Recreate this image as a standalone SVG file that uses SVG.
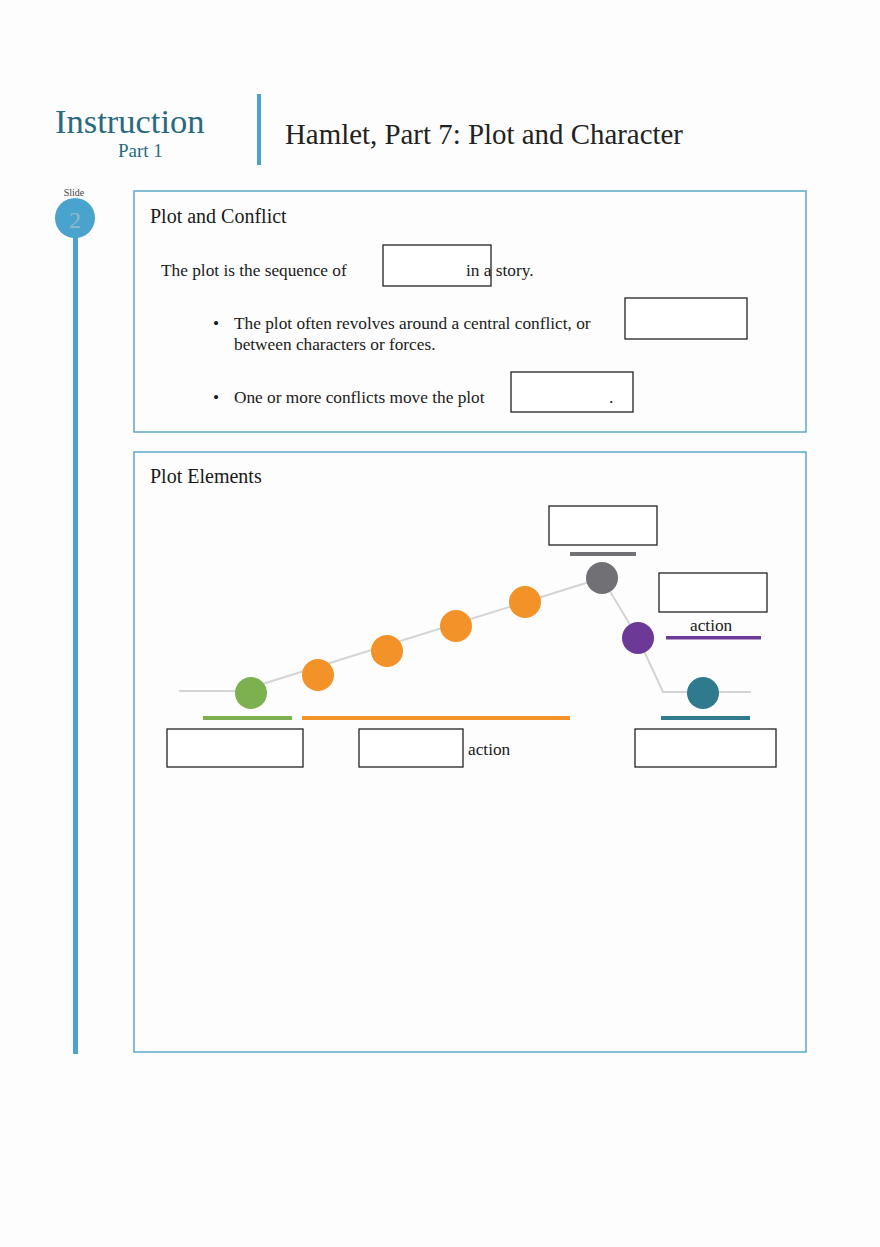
<svg xmlns="http://www.w3.org/2000/svg" width="880" height="1247" viewBox="0 0 880 1247">
<style>
.serif{font-family:"Liberation Serif","Times New Roman",serif}
.body{font-size:17.3px;fill:#1a1a1a}
.panel{fill:none;stroke:#5aa7c8;stroke-width:1.5}
.blank{fill:#fff;stroke:#222;stroke-width:1.3}
.head{font-size:20px;fill:#1a1a1a}
</style>
<rect width="880" height="1247" fill="#fdfdfd"/>
<g id="header">
<text class="serif" x="55" y="133" font-size="34.5" fill="#2a6a80">Instruction</text>
<text class="serif" x="118" y="157" font-size="19" fill="#2a6a80">Part 1</text>
<rect x="257" y="94" width="4" height="71" fill="#4aa3cc"/>
<text class="serif" x="285" y="144" font-size="28.9" fill="#222">Hamlet, Part 7: Plot and Character</text>
</g>
<g id="slide-marker">
<rect x="73" y="215" width="5" height="839" fill="#4aa3cc"/>
<text class="serif" x="74" y="196" font-size="10" fill="#444" text-anchor="middle">Slide</text>
<circle cx="75" cy="218" r="20" fill="#4aa3cc"/>
<text class="serif" x="75" y="228" font-size="24" fill="#8fb8c8" text-anchor="middle">2</text>
</g>
<g id="panel-plot-conflict">
<rect class="panel" x="134" y="191" width="672" height="241"/>
<text class="serif head" x="150" y="223">Plot and Conflict</text>
<text class="serif body" x="161" y="276">The plot is the sequence of</text>
<rect class="blank" x="383" y="245" width="108" height="41"/>
<text class="serif body" x="466" y="276">in a story.</text>
<text class="serif body" x="213" y="329">•</text>
<text class="serif body" x="234" y="329">The plot often revolves around a central conflict, or</text>
<text class="serif body" x="234" y="350">between characters or forces.</text>
<rect class="blank" x="625" y="298" width="122" height="41"/>
<text class="serif body" x="213" y="403">•</text>
<text class="serif body" x="234" y="403">One or more conflicts move the plot</text>
<rect class="blank" x="511" y="372" width="122" height="40"/>
<text class="serif body" x="609" y="403">.</text>
</g>
<g id="panel-plot-elements">
<rect class="panel" x="134" y="452" width="672" height="600"/>
<text class="serif head" x="150" y="483">Plot Elements</text>
</g>
<g id="connectors">
<polyline points="179,691 240,691 602,578 638,638 663,692 751,692" fill="none" stroke="#d4d4d4" stroke-width="2"/>
</g>
<g id="node-exposition">
<circle cx="251" cy="693" r="16" fill="#7db04f"/>
<rect x="203" y="716" width="89" height="4" fill="#7db04f"/>
<rect class="blank" x="167" y="729" width="136" height="38"/>
</g>
<g id="node-rising">
<circle cx="318" cy="675" r="16" fill="#f39228"/>
<circle cx="387" cy="651" r="16" fill="#f39228"/>
<circle cx="456" cy="626" r="16" fill="#f39228"/>
<circle cx="525" cy="602" r="16" fill="#f39228"/>
<rect x="302" y="716" width="268" height="4" fill="#f39228"/>
<rect class="blank" x="359" y="729" width="104" height="38"/>
<text class="serif body" x="468" y="755">action</text>
</g>
<g id="node-climax">
<rect class="blank" x="549" y="506" width="108" height="39"/>
<rect x="570" y="552" width="66" height="4" fill="#707075"/>
<circle cx="602" cy="578" r="16" fill="#707075"/>
</g>
<g id="node-falling">
<circle cx="638" cy="638" r="16" fill="#6c3a96"/>
<rect class="blank" x="659" y="573" width="108" height="39"/>
<text class="serif body" x="690" y="631">action</text>
<rect x="666" y="636" width="95" height="3.5" fill="#6c3a96"/>
</g>
<g id="node-resolution">
<circle cx="703" cy="693" r="16" fill="#2f7a8c"/>
<rect x="661" y="716" width="89" height="4" fill="#2f7a8c"/>
<rect class="blank" x="635" y="729" width="141" height="38"/>
</g>
</svg>
